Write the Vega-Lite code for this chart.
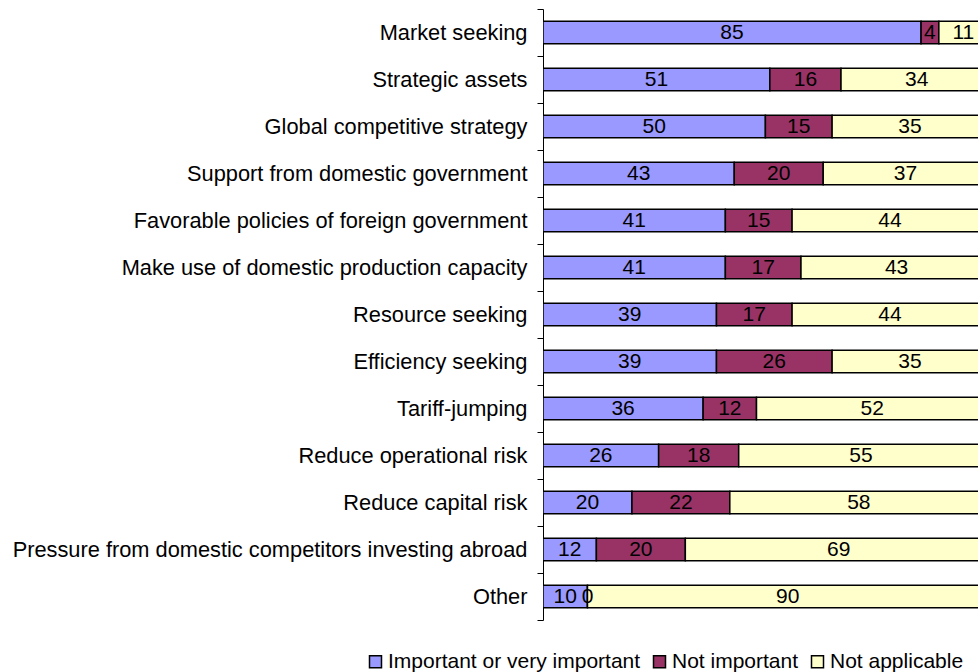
{
  "$schema": "https://vega.github.io/schema/vega-lite/v6.json",
  "autosize": {"type": "none"},
  "padding": {"left": 543, "top": 9, "right": 0, "bottom": 52},
  "width": 435,
  "height": 611,
  "background": "white",
  "config": {
    "view": {"stroke": null},
    "font": "Liberation Sans",
    "text": {"font": "Liberation Sans"}
  },
  "data": {
    "values": [
      {"motive": "Market seeking", "response": "Important or very important", "rank": 1, "pct": 85},
      {"motive": "Market seeking", "response": "Not important", "rank": 2, "pct": 4},
      {"motive": "Market seeking", "response": "Not applicable", "rank": 3, "pct": 11},
      {"motive": "Strategic assets", "response": "Important or very important", "rank": 1, "pct": 51},
      {"motive": "Strategic assets", "response": "Not important", "rank": 2, "pct": 16},
      {"motive": "Strategic assets", "response": "Not applicable", "rank": 3, "pct": 34},
      {"motive": "Global competitive strategy", "response": "Important or very important", "rank": 1, "pct": 50},
      {"motive": "Global competitive strategy", "response": "Not important", "rank": 2, "pct": 15},
      {"motive": "Global competitive strategy", "response": "Not applicable", "rank": 3, "pct": 35},
      {"motive": "Support from domestic government", "response": "Important or very important", "rank": 1, "pct": 43},
      {"motive": "Support from domestic government", "response": "Not important", "rank": 2, "pct": 20},
      {"motive": "Support from domestic government", "response": "Not applicable", "rank": 3, "pct": 37},
      {"motive": "Favorable policies of foreign government", "response": "Important or very important", "rank": 1, "pct": 41},
      {"motive": "Favorable policies of foreign government", "response": "Not important", "rank": 2, "pct": 15},
      {"motive": "Favorable policies of foreign government", "response": "Not applicable", "rank": 3, "pct": 44},
      {"motive": "Make use of domestic production capacity", "response": "Important or very important", "rank": 1, "pct": 41},
      {"motive": "Make use of domestic production capacity", "response": "Not important", "rank": 2, "pct": 17},
      {"motive": "Make use of domestic production capacity", "response": "Not applicable", "rank": 3, "pct": 43},
      {"motive": "Resource seeking", "response": "Important or very important", "rank": 1, "pct": 39},
      {"motive": "Resource seeking", "response": "Not important", "rank": 2, "pct": 17},
      {"motive": "Resource seeking", "response": "Not applicable", "rank": 3, "pct": 44},
      {"motive": "Efficiency seeking", "response": "Important or very important", "rank": 1, "pct": 39},
      {"motive": "Efficiency seeking", "response": "Not important", "rank": 2, "pct": 26},
      {"motive": "Efficiency seeking", "response": "Not applicable", "rank": 3, "pct": 35},
      {"motive": "Tariff-jumping", "response": "Important or very important", "rank": 1, "pct": 36},
      {"motive": "Tariff-jumping", "response": "Not important", "rank": 2, "pct": 12},
      {"motive": "Tariff-jumping", "response": "Not applicable", "rank": 3, "pct": 52},
      {"motive": "Reduce operational risk", "response": "Important or very important", "rank": 1, "pct": 26},
      {"motive": "Reduce operational risk", "response": "Not important", "rank": 2, "pct": 18},
      {"motive": "Reduce operational risk", "response": "Not applicable", "rank": 3, "pct": 55},
      {"motive": "Reduce capital risk", "response": "Important or very important", "rank": 1, "pct": 20},
      {"motive": "Reduce capital risk", "response": "Not important", "rank": 2, "pct": 22},
      {"motive": "Reduce capital risk", "response": "Not applicable", "rank": 3, "pct": 58},
      {"motive": "Pressure from domestic competitors investing abroad", "response": "Important or very important", "rank": 1, "pct": 12},
      {"motive": "Pressure from domestic competitors investing abroad", "response": "Not important", "rank": 2, "pct": 20},
      {"motive": "Pressure from domestic competitors investing abroad", "response": "Not applicable", "rank": 3, "pct": 69},
      {"motive": "Other", "response": "Important or very important", "rank": 1, "pct": 10},
      {"motive": "Other", "response": "Not important", "rank": 2, "pct": 0},
      {"motive": "Other", "response": "Not applicable", "rank": 3, "pct": 90}
    ]
  },
  "encoding": {
    "y": {
      "field": "motive",
      "type": "nominal",
      "sort": null,
      "scale": {"paddingInner": 0, "paddingOuter": 0},
      "axis": {
        "title": null,
        "domainColor": "black",
        "domainWidth": 1,
        "tickColor": "black",
        "tickSize": 6,
        "tickBand": "extent",
        "labelFont": "Liberation Sans",
        "labelFontSize": 21.8,
        "labelColor": "black",
        "labelPadding": 10,
        "labelLimit": 600
      }
    }
  },
  "layer": [
    {
      "mark": {"type": "bar", "stroke": "black", "strokeWidth": 1.5, "clip": true, "height": {"band": 0.48}},
      "encoding": {
        "x": {
          "field": "pct",
          "type": "quantitative",
          "stack": "zero",
          "scale": {"domain": [0, 97.8], "nice": false, "zero": true},
          "axis": null
        },
        "order": {"field": "rank", "type": "quantitative"},
        "color": {
          "field": "response",
          "type": "nominal",
          "scale": {
            "domain": ["Important or very important", "Not important", "Not applicable"],
            "range": ["#9999FF", "#993366", "#FFFFCC"]
          },
          "legend": {
            "title": null,
            "orient": "none",
            "direction": "horizontal",
            "legendX": -178,
            "legendY": 642,
            "symbolType": "square",
            "symbolSize": 144,
            "symbolStrokeColor": "black",
            "symbolStrokeWidth": 1.5,
            "symbolOpacity": 1,
            "labelFont": "Liberation Sans",
            "labelFontSize": 21,
            "labelColor": "black",
            "labelOffset": 2,
            "labelLimit": 400,
            "columnPadding": 8,
            "symbolOffset": 0
          }
        }
      }
    },
    {
      "mark": {"type": "text", "font": "Liberation Sans", "fontSize": 21, "color": "black", "baseline": "middle", "align": "center", "clip": true},
      "encoding": {
        "x": {"field": "pct", "type": "quantitative", "stack": "zero", "bandPosition": 0.5},
        "order": {"field": "rank", "type": "quantitative"},
        "detail": {"field": "response"},
        "text": {"field": "pct", "type": "quantitative"}
      }
    }
  ]
}
